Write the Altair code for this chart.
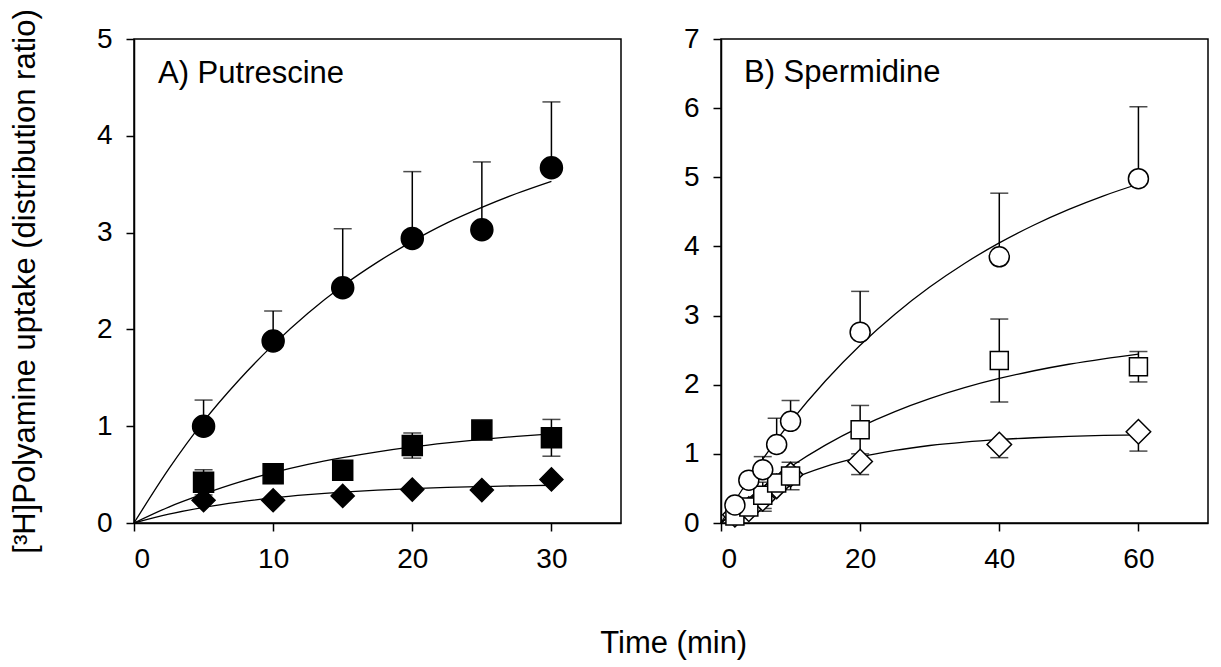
import altair as alt
import pandas as pd

FONT = "Liberation Sans"

# ---------------- Panel A: Putrescine ----------------
time_a = [5, 10, 15, 20, 25, 30]
circ_a = [1.00, 1.88, 2.43, 2.94, 3.03, 3.67]
circ_a_err = [0.27, 0.31, 0.61, 0.69, 0.70, 0.68]      # upper bars only
sq_a = [0.42, 0.51, 0.545, 0.80, 0.96, 0.88]
sq_a_err = [0.13, 0.10, 0.03, 0.13, 0.05, 0.19]        # both directions
dia_a = [0.235, 0.235, 0.28, 0.345, 0.34, 0.45]

fit_t_a = [0, 2.5, 5, 7.5, 10, 12.5, 15, 17.5, 20, 22.5, 25, 27.5, 30]
fit_circ_a = [0, 0.559, 1.05, 1.47, 1.84, 2.166, 2.45, 2.695, 2.91, 3.10, 3.26, 3.404, 3.53]
fit_sq_a = [0, 0.165, 0.30, 0.42, 0.52, 0.605, 0.675, 0.735, 0.786, 0.828, 0.864, 0.895, 0.92]
fit_dia_a = [0, 0.091, 0.161, 0.216, 0.26, 0.293, 0.319, 0.339, 0.355, 0.367, 0.376, 0.384, 0.39]

# ---------------- Panel B: Spermidine ----------------
time_b = [2, 4, 6, 8, 10, 20, 40, 60]
circ_b = [0.26, 0.62, 0.77, 1.135, 1.47, 2.76, 3.85, 4.98]
circ_b_err = [0.03, 0.05, 0.19, 0.38, 0.30, 0.59, 0.92, 1.04]   # upper bars only
sq_b = [0.10, 0.23, 0.40, 0.58, 0.68, 1.35, 2.35, 2.26]
sq_b_err = [0.03, 0.08, 0.19, 0.10, 0.20, 0.35, 0.60, 0.22]     # both directions
dia_b = [0.12, 0.20, 0.35, 0.53, 0.70, 0.89, 1.135, 1.32]
dia_b_err = [0.03, 0.05, 0.18, 0.05, 0.05, 0.19, 0.19, 0.28]    # lower bars only

fit_t_b = [0, 5, 10, 15, 20, 25, 30, 35, 40, 45, 50, 55, 60]
fit_circ_b = [0, 0.781, 1.462, 2.054, 2.571, 3.02, 3.412, 3.754, 4.051, 4.31, 4.535, 4.732, 4.903]
fit_sq_b = [0, 0.441, 0.813, 1.126, 1.39, 1.612, 1.799, 1.957, 2.09, 2.202, 2.296, 2.375, 2.442]
fit_dia_b = [0, 0.365, 0.628, 0.817, 0.953, 1.05, 1.121, 1.171, 1.207, 1.233, 1.252, 1.266, 1.275]

W, H = 487, 484


def err_frames(t, y, err, mode):
    seg, caps = [], []
    for ti, yi, ei in zip(t, y, err):
        lo = yi - ei if mode in ("both", "down") else yi
        hi = yi + ei if mode in ("both", "up") else yi
        seg.append({"t": ti, "lo": lo, "hi": hi})
        if mode in ("both", "up"):
            caps.append({"t": ti, "c": hi})
        if mode in ("both", "down"):
            caps.append({"t": ti, "c": lo})
    return pd.DataFrame(seg), pd.DataFrame(caps)


def panel(xdom, xvals, ydom, yvals, fits, series, errs, label, label_x, label_y, ytitle):
    xs = alt.Scale(domain=xdom, nice=False, zero=False)
    ys = alt.Scale(domain=ydom, nice=False)
    xax = alt.Axis(values=xvals, title=None, format="d")
    yax = alt.Axis(values=yvals, title=ytitle, format="d") if ytitle else alt.Axis(values=yvals, title=None, format="d")
    layers = []
    first = True
    for ft, fy in fits:
        df = pd.DataFrame({"t": ft, "v": fy})
        enc = dict(
            x=alt.X("t:Q", scale=xs, axis=xax) if first else alt.X("t:Q", scale=xs),
            y=alt.Y("v:Q", scale=ys, axis=yax) if first else alt.Y("v:Q", scale=ys),
        )
        first = False
        layers.append(alt.Chart(df).mark_line(color="black", strokeWidth=1.3,
                                              interpolate="monotone").encode(**enc))
    for (t, y, err, mode) in errs:
        seg, caps = err_frames(t, y, err, mode)
        layers.append(alt.Chart(seg).mark_rule(color="black", strokeWidth=1.5).encode(
            x=alt.X("t:Q", scale=xs), y=alt.Y("lo:Q", scale=ys), y2="hi:Q"))
        layers.append(alt.Chart(caps).mark_tick(orient="horizontal", size=18, thickness=1.5,
                                                color="black").encode(
            x=alt.X("t:Q", scale=xs), y=alt.Y("c:Q", scale=ys)))
    for (t, y, shape, size, filled) in series:
        df = pd.DataFrame({"t": t, "v": y})
        layers.append(alt.Chart(df).mark_point(
            shape=shape, size=size, filled=True, opacity=1,
            fill="black" if filled else "white", stroke="black", strokeWidth=1.5
        ).encode(x=alt.X("t:Q", scale=xs), y=alt.Y("v:Q", scale=ys)))
    layers.append(alt.Chart(pd.DataFrame({"lab": [label]})).mark_text(
        align="left", baseline="alphabetic", font=FONT, fontSize=31, color="black"
    ).encode(text="lab:N", x=alt.value(label_x), y=alt.value(label_y)))
    return alt.layer(*layers).properties(width=W, height=H)


pa = panel(
    [0, 35], [0, 10, 20, 30], [0, 5], [0, 1, 2, 3, 4, 5],
    [(fit_t_a, fit_circ_a), (fit_t_a, fit_sq_a), (fit_t_a, fit_dia_a)],
    [(time_a, circ_a, "circle", 484, True), (time_a, sq_a, "square", 400, True),
     (time_a, dia_a, "diamond", 530, True)],
    [(time_a, circ_a, circ_a_err, "up"), (time_a, sq_a, sq_a_err, "both")],
    "A) Putrescine", 24, 44, "[³H]Polyamine uptake (distribution ratio)",
)
pb = panel(
    [0, 70], [0, 20, 40, 60], [0, 7], [0, 1, 2, 3, 4, 5, 6, 7],
    [(fit_t_b, fit_circ_b), (fit_t_b, fit_sq_b), (fit_t_b, fit_dia_b)],
    [(time_b, dia_b, "diamond", 600, False), (time_b, sq_b, "square", 324, False),
     (time_b, circ_b, "circle", 400, False)],
    [(time_b, circ_b, circ_b_err, "up"), (time_b, sq_b, sq_b_err, "both"),
     (time_b, dia_b, dia_b_err, "down")],
    "B) Spermidine", 23, 43, None,
)
chart = alt.hconcat(pa, pb, spacing=60).properties(
    padding={"left": 8, "top": 8, "right": 5, "bottom": 5},
    title=alt.TitleParams(text="Time (min)", orient="bottom", anchor="middle", fontSize=31,
                          font=FONT, fontWeight="normal", color="black", offset=55, dx=65),
).configure_view(stroke="black", strokeWidth=1.5).configure_axis(
    domainColor="black", domainWidth=1.5, tickColor="black", tickWidth=1.5, tickSize=8,
    labelFont=FONT, labelFontSize=28, labelColor="black", labelPadding=14,
    titleFont=FONT, titleFontSize=31, titleFontWeight="normal", titleColor="black",
    titlePadding=55, grid=False,
)
chart.save("out.html", embed_options={"renderer": "svg", "actions": False})
